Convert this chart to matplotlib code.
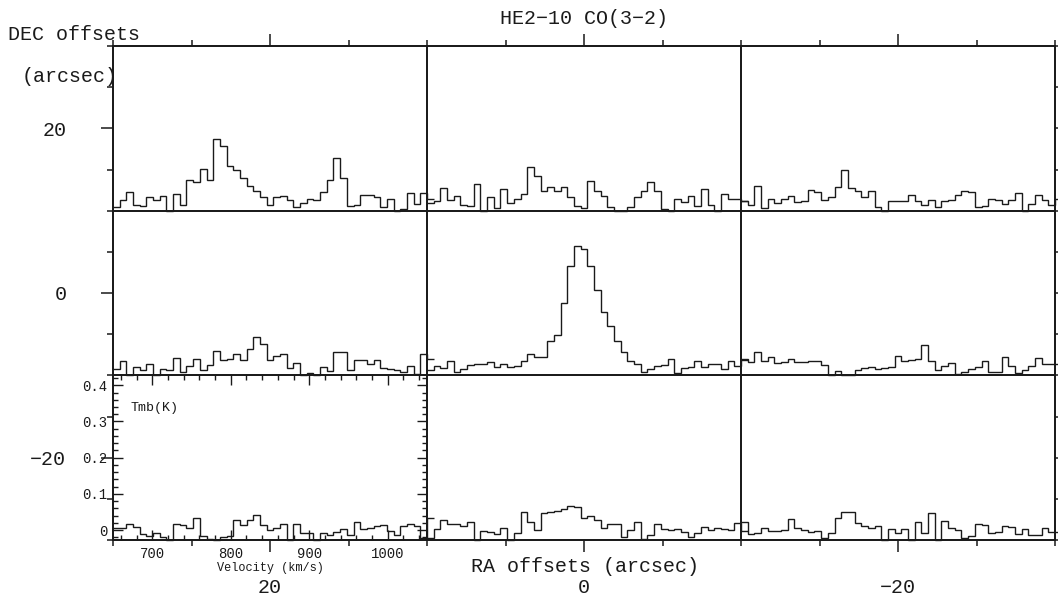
import numpy as np
import matplotlib.pyplot as plt
from matplotlib.ticker import MultipleLocator

W, H, DPI = 1058, 602, 100

title = "HE2\u221210 CO(3\u22122)"
ra_offsets = [20, 0, -20]
dec_offsets = [20, 0, -20]
offset_labels = ["20", "0", "\u221220"]

# velocity axis of every small box (km/s) and Tmb range (K)
v_start, v_stop = 650.0, 1050.0
n_chan = 47
tmb_lim = (-0.0275, 0.4275)
v_ticks = [700, 800, 900, 1000]
tmb_ticks = [0, 0.1, 0.2, 0.3, 0.4]
tmb_labels = ["0", "0.1", "0.2", "0.3", "0.4"]

# spectra, Tmb (K) per channel (48 channels, the last spills over)
spec_ra20_dec20 = [-0.017, 0.003, 0.023, -0.011, -0.014, 0.010, 0.003, 0.014, -0.03, 0.018,
                   -0.011, 0.056, 0.053, 0.087, 0.058, 0.170, 0.150, 0.096, 0.085, 0.064,
                   0.041, 0.026, 0.009, -0.011, 0.010, 0.012, 0.003, -0.017, -0.005, 0.005,
                   0.001, 0.024, 0.058, 0.117, 0.064, -0.014, -0.012, 0.017, 0.016, 0.009,
                   -0.018, 0.005, -0.03, -0.023, 0.021, -0.008, 0.021, 0.005]
spec_ra0_dec20 = [-0.006, -0.002, 0.035, 0.001, 0.012, -0.011, -0.014, 0.047, -0.03, 0.010,
                  -0.020, 0.032, -0.005, 0.005, 0.019, 0.094, 0.067, 0.026, 0.037, 0.026,
                  0.038, 0.010, -0.014, -0.020, 0.054, 0.028, 0.012, -0.016, -0.03, -0.03,
                  -0.018, 0.010, 0.026, 0.053, 0.028, -0.022, -0.03, 0.006, -0.003, 0.012,
                  -0.014, 0.032, -0.011, -0.03, 0.018, 0.005, 0.005, 0.000]
spec_ram20_dec20 = [-0.002, -0.011, 0.040, -0.020, 0.005, -0.005, 0.006, 0.012, -0.004, 0.000,
                    0.030, 0.024, 0.003, 0.010, 0.038, 0.084, 0.035, 0.028, 0.010, 0.026,
                    -0.017, -0.03, 0.000, -0.002, -0.002, 0.015, -0.002, -0.011, 0.001, -0.017,
                    -0.002, 0.001, 0.015, 0.026, 0.023, -0.016, -0.014, 0.005, 0.001, -0.008,
                    0.001, 0.021, -0.03, -0.008, 0.017, 0.001, -0.011, 0.005]
spec_ra20_dec0 = [-0.009, 0.012, -0.03, -0.005, -0.014, 0.003, -0.03, -0.009, -0.014, 0.021,
                  -0.018, -0.003, 0.017, -0.012, 0.000, 0.039, 0.016, 0.018, 0.032, 0.014,
                  0.045, 0.078, 0.060, 0.016, 0.025, 0.032, -0.007, 0.006, -0.03, -0.021,
                  -0.03, -0.005, -0.016, 0.037, 0.037, -0.014, 0.014, 0.014, 0.005, 0.016,
                  -0.007, -0.009, -0.014, -0.017, -0.002, -0.023, 0.032, 0.018]
spec_ra0_dec0 = [-0.014, -0.002, -0.006, 0.012, -0.018, -0.009, 0.000, 0.003, 0.005, 0.009,
                 -0.005, 0.003, -0.005, -0.003, 0.012, 0.032, 0.023, 0.023, 0.066, 0.085,
                 0.173, 0.275, 0.331, 0.321, 0.275, 0.209, 0.147, 0.110, 0.066, 0.037,
                 0.011, 0.005, -0.018, -0.011, -0.002, 0.000, 0.018, -0.020, -0.007, -0.005,
                 0.011, -0.005, 0.003, 0.003, -0.009, 0.012, -0.002, 0.016]
spec_ram20_dec0 = [0.018, 0.009, 0.037, 0.011, 0.023, 0.006, 0.008, 0.017, 0.009, 0.009,
                   0.011, 0.011, 0.002, -0.03, -0.016, -0.03, -0.03, -0.012, -0.007, -0.005,
                   -0.009, -0.007, -0.005, 0.025, 0.012, 0.014, 0.018, 0.055, 0.011, -0.014,
                   -0.003, 0.006, -0.023, -0.018, -0.009, -0.005, 0.011, -0.017, -0.018, 0.023,
                   -0.003, -0.021, -0.014, -0.002, 0.021, 0.003, 0.005, 0.005]
spec_ra20_decm20 = [0.007, 0.005, 0.018, 0.009, -0.011, -0.016, -0.009, -0.018, -0.03, 0.018,
                    0.014, 0.005, 0.034, -0.016, -0.026, -0.03, -0.020, -0.017, 0.028, 0.014,
                    0.028, 0.041, 0.014, 0.000, 0.005, 0.018, -0.03, 0.018, -0.007, -0.009,
                    -0.03, -0.007, -0.014, -0.005, 0.002, -0.014, 0.021, 0.002, 0.007, 0.011,
                    0.014, -0.002, -0.014, 0.011, 0.018, 0.011, -0.023, 0.032]
spec_ra0_decm20 = [-0.023, 0.002, 0.028, 0.018, 0.016, 0.011, 0.021, -0.03, -0.002, -0.006,
                   -0.011, 0.006, -0.03, -0.009, 0.049, 0.023, 0.000, 0.046, 0.049, 0.052,
                   0.058, 0.066, 0.064, 0.032, 0.039, 0.028, 0.006, 0.018, 0.018, -0.020,
                   0.000, 0.023, -0.026, -0.014, 0.018, 0.002, 0.000, 0.002, -0.005, -0.020,
                   -0.007, 0.009, 0.000, 0.005, 0.002, 0.000, 0.020, -0.002]
spec_ram20_decm20 = [0.023, -0.012, -0.007, 0.005, -0.003, -0.002, 0.000, 0.030, 0.005, 0.000,
                     -0.005, -0.002, -0.023, -0.007, 0.032, 0.049, 0.049, 0.020, 0.011, 0.005,
                     0.011, -0.03, 0.002, -0.009, 0.002, -0.03, 0.021, -0.009, 0.046, -0.03,
                     0.026, 0.005, 0.000, -0.021, -0.016, 0.016, 0.014, -0.009, -0.005, 0.012,
                     0.009, -0.012, 0.002, -0.014, -0.014, 0.006, -0.005, -0.005]

spectra = {
    (20, 20): spec_ra20_dec20, (0, 20): spec_ra0_dec20, (-20, 20): spec_ram20_dec20,
    (20, 0): spec_ra20_dec0, (0, 0): spec_ra0_dec0, (-20, 0): spec_ram20_dec0,
    (20, -20): spec_ra20_decm20, (0, -20): spec_ra0_decm20, (-20, -20): spec_ram20_decm20,
}

plt.rcParams['font.family'] = ['Liberation Mono', 'DejaVu Sans Mono']
ink = '#1a1a1a'

fig = plt.figure(figsize=(W / DPI, H / DPI), dpi=DPI)


def box(x0, y0, x1, y1):
    # pixel box (top-left origin) -> figure fraction rect
    return [x0 / W, 1 - y1 / H, (x1 - x0) / W, (y1 - y0) / H]


L, R, T, B = 113, 1055, 46, 540

# big frame with the RA / DEC offsets
outer = fig.add_axes(box(L, T, R, B))
outer.set_xlim(30, -30)
outer.set_ylim(-30, 30)
outer.set_xticks(ra_offsets, offset_labels)
outer.set_yticks(dec_offsets, offset_labels)
outer.xaxis.set_minor_locator(MultipleLocator(5))
outer.yaxis.set_minor_locator(MultipleLocator(5))
outer.tick_params(which='both', direction='out', top=True, right=True,
                  labelsize=14.4, width=1.1, color=ink, labelcolor=ink)
outer.tick_params(which='major', length=8.6)
outer.tick_params(which='minor', length=4.3)
outer.tick_params(axis='x', which='major', pad=19)
outer.tick_params(axis='y', which='major', pad=25)
for s in outer.spines.values():
    s.set_linewidth(1.3)
    s.set_color(ink)

edges = v_start + (v_stop - v_start) / n_chan * np.arange(n_chan + 2)

cw = (R - L) / 3
rh = (B - T) / 3
for i, dec in enumerate(dec_offsets):
    for j, ra in enumerate(ra_offsets):
        ax = fig.add_axes(box(L + j * cw, T + i * rh, L + (j + 1) * cw, T + (i + 1) * rh))
        ax.set_facecolor('none')
        ax.set_xlim(v_start, v_stop)
        ax.set_ylim(*tmb_lim)
        vals = np.clip(np.array(spectra[(ra, dec)]), tmb_lim[0], None)
        ax.stairs(vals, edges, baseline=None, color=ink, lw=1.0, clip_on=False)
        for s in ax.spines.values():
            s.set_linewidth(1.3)
            s.set_color(ink)
        if i == 2 and j == 0:
            ax.set_xticks(v_ticks)
            ax.set_yticks(tmb_ticks, tmb_labels)
            ax.xaxis.set_minor_locator(MultipleLocator(20))
            ax.yaxis.set_minor_locator(MultipleLocator(0.02))
            ax.tick_params(which='both', direction='in', top=True, right=True,
                           labelsize=10, width=1.0, color=ink, labelcolor=ink)
            ax.tick_params(which='major', length=7)
            ax.tick_params(which='minor', length=3.5)
            ax.tick_params(axis='x', pad=5)
            ax.tick_params(axis='y', pad=4)
            ax.set_xlabel("Velocity (km/s)", fontsize=8.6, labelpad=1, color=ink)
            ax.text(0.055, 0.80, "Tmb(K)", transform=ax.transAxes, fontsize=9.6,
                    color=ink, va='center', ha='left')
        else:
            ax.set_xticks([])
            ax.set_yticks([])

fig.text(584 / W, 1 - 19 / H, title, ha='center', va='center', fontsize=14.4, color=ink)
fig.text(8 / W, 1 - 35 / H, "DEC offsets", ha='left', va='center', fontsize=14.4, color=ink)
fig.text(22 / W, 1 - 76 / H, "(arcsec)", ha='left', va='center', fontsize=14.4, color=ink)
fig.text(585 / W, 1 - 567 / H, "RA offsets (arcsec)", ha='center', va='center',
         fontsize=14.4, color=ink)

fig.savefig("out.png", dpi=DPI)
